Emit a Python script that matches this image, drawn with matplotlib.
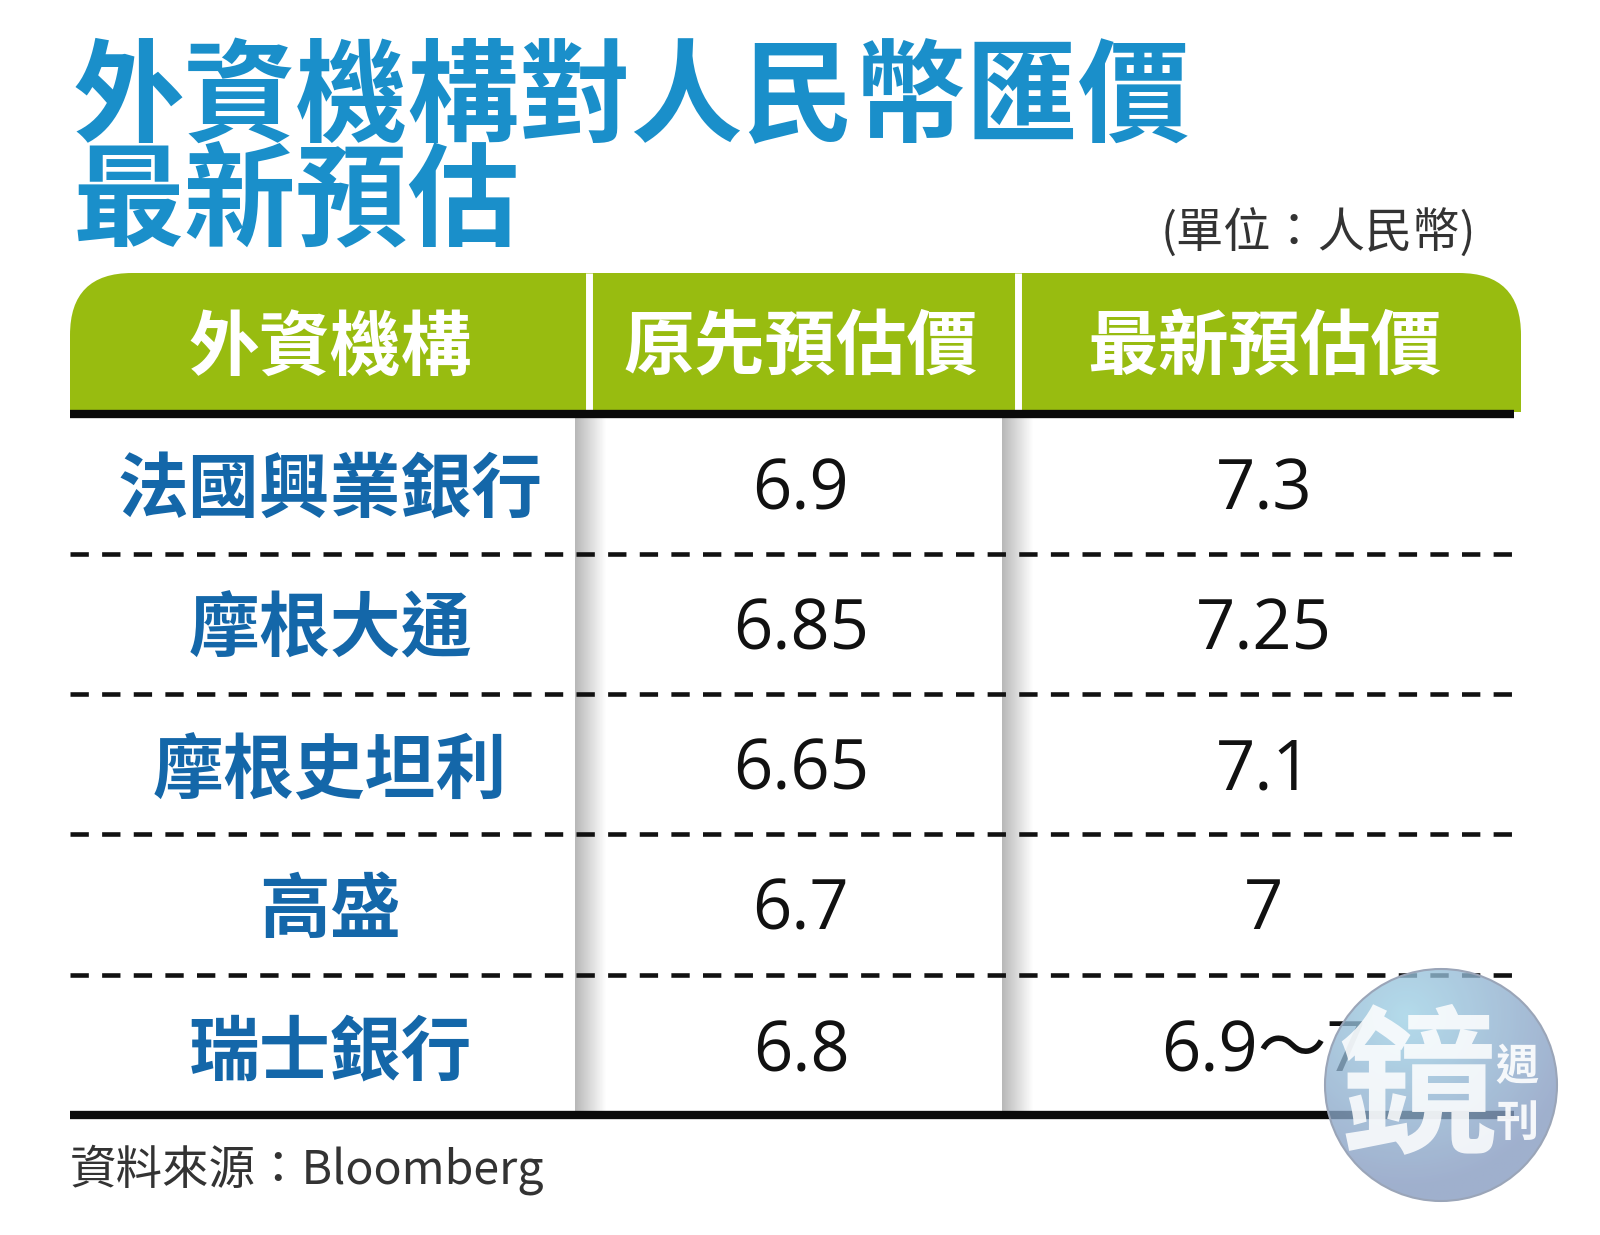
import matplotlib.pyplot as plt
import numpy as np
from matplotlib.patches import Circle, PathPatch
from matplotlib.path import Path

title_lines = ["外資機構對人民幣匯價", "最新預估"]
unit_text = "(單位：人民幣)"
headers = ["外資機構", "原先預估價", "最新預估價"]
banks = ["法國興業銀行", "摩根大通", "摩根史坦利", "高盛", "瑞士銀行"]
old_forecast = ["6.9", "6.85", "6.65", "6.7", "6.8"]
new_forecast = ["7.3", "7.25", "7.1", "7", "6.9～7"]
source_text = "資料來源：Bloomberg"

CJK = ["Noto Sans CJK TC", "DejaVu Sans"]
NUM = ["Open Sans", "Noto Sans CJK TC"]
BLUE = "#1a8fca"
DARK_BLUE = "#1467a9"
GREEN = "#98bc10"

fig = plt.figure(figsize=(16, 12.35), dpi=100)
ax = fig.add_axes([0, 0, 1, 1])

# title
ax.text(73, 101, title_lines[0], family=CJK, weight="bold", fontsize=80.5, color=BLUE, va="center")
ax.text(73, 204, title_lines[1], family=CJK, weight="bold", fontsize=80.5, color=BLUE, va="center")
ax.text(1476, 233, unit_text, family=CJK, fontsize=34, color="#333333", ha="right", va="center")

# header band with round corners
left, right, top, bottom, r = 70, 1521, 273, 412, 62
verts = [(left, bottom), (left, top + r), (left, top), (left + r, top),
         (right - r, top), (right, top), (right, top + r), (right, bottom), (left, bottom)]
codes = [Path.MOVETO, Path.LINETO, Path.CURVE3, Path.CURVE3,
         Path.LINETO, Path.CURVE3, Path.CURVE3, Path.LINETO, Path.CLOSEPOLY]
ax.add_patch(PathPatch(Path(verts, codes), fc=GREEN, ec="none", zorder=1))
for x in (589, 1018):
    ax.plot([x, x], [top, bottom], color="white", lw=5, solid_capstyle="butt", zorder=2)

# shadow next to the column lines
shade = np.linspace(0.72, 1, 32).reshape(1, -1)
for x in (575, 1002):
    ax.imshow(shade, extent=(x, x + 32, 1112, 416), cmap="gray", vmin=0, vmax=1,
              aspect="auto", zorder=0)

# rules
row_lines = [554, 694, 834, 975]
for y in row_lines:
    ax.plot([70, 1514], [y, y], color="#111111", lw=3.3, linestyle=(0, (4.0, 2.9)),
            dash_capstyle="butt", zorder=3)
for y in (414, 1115):
    ax.plot([70, 1514], [y, y], color="#0a0a0a", lw=6, solid_capstyle="butt", zorder=3)

# table text
col_x = [330, 801, 1264]
head_y = 349
row_y = [491, 631, 772, 911, 1053]
for x, label in zip(col_x, headers):
    ax.text(x, head_y, label, family=CJK, weight="bold", fontsize=51, color="white",
            ha="center", va="center", zorder=4)
for y, bank, old, new in zip(row_y, banks, old_forecast, new_forecast):
    ax.text(col_x[0], y, bank, family=CJK, weight="bold", fontsize=51, color=DARK_BLUE,
            ha="center", va="center", zorder=4)
    ax.text(col_x[1], y, old, family=NUM, fontsize=49.5, color="#111111",
            ha="center", va="center", zorder=4)
    ax.text(col_x[2], y, new, family=NUM, fontsize=49.5, color="#111111",
            ha="center", va="center", zorder=4)

ax.text(70, 1170, source_text, family=CJK, fontsize=33.5, color="#333333", va="center")

# watermark, see-through so the table still shows under it
cx, cy, radius = 1441, 1085, 116
yy, xx = np.mgrid[0:1:200j, 0:1:200j]
badge = np.zeros((200, 200, 4))
mix = np.clip(1.35 * np.hypot(xx - 0.35, yy - 0.2), 0, 1)[..., None]
badge[..., :3] = (1 - mix) * np.array([0.62, 0.82, 0.90]) + mix * np.array([0.52, 0.60, 0.75])
badge[..., 3] = 0.78
im = ax.imshow(badge, extent=(cx - radius, cx + radius, cy + radius, cy - radius),
               aspect="auto", zorder=5)
clip = Circle((cx, cy), radius, transform=ax.transData)
im.set_clip_path(clip)
ax.add_patch(Circle((cx, cy), radius, fc="none", ec="#9aa5b8", lw=1.5, zorder=6))
ax.text(cx - 24, cy + 8, "鏡", family=CJK, weight="bold", fontsize=114, color="white", alpha=0.85,
        ha="center", va="center", zorder=7)
ax.text(cx + 76, cy - 18, "週", family=CJK, weight="bold", fontsize=31, color="white", alpha=0.9,
        ha="center", va="center", zorder=7)
ax.text(cx + 76, cy + 38, "刊", family=CJK, weight="bold", fontsize=31, color="white", alpha=0.9,
        ha="center", va="center", zorder=7)

ax.set_xlim(0, 1600)
ax.set_ylim(1235, 0)
ax.axis("off")

fig.savefig("out.png", dpi=100, facecolor="white")
